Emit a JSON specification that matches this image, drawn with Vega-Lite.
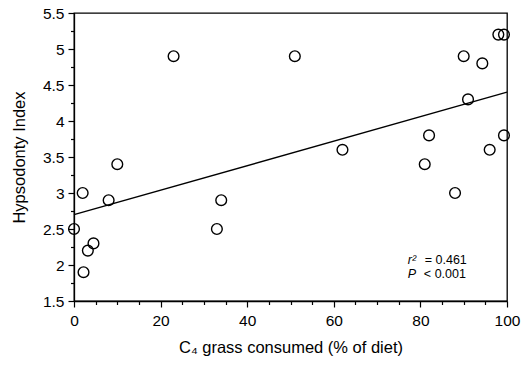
{
  "$schema": "https://vega.github.io/schema/vega-lite/v6.json",
  "width": 433,
  "height": 288,
  "autosize": {"type": "none"},
  "padding": {"left": 74, "top": 13, "right": 14, "bottom": 65},
  "background": "white",
  "config": {
    "font": "Liberation Sans",
    "view": {"stroke": "black", "strokeWidth": 1.3},
    "axis": {
      "grid": false,
      "domainColor": "black",
      "domainWidth": 1.3,
      "tickColor": "black",
      "tickWidth": 1.2,
      "labelColor": "black",
      "labelFont": "Liberation Sans",
      "labelFontSize": 15.5,
      "titleFont": "Liberation Sans",
      "titleFontSize": 16.5,
      "titleFontWeight": "normal",
      "titleColor": "black",
      "labelOverlap": false,
      "labelFlush": false
    }
  },
  "datasets": {
    "pts": [
      {"c4": 0, "hi": 2.5},
      {"c4": 2, "hi": 3.0},
      {"c4": 8, "hi": 2.9},
      {"c4": 4.5, "hi": 2.3},
      {"c4": 3.2, "hi": 2.2},
      {"c4": 2.2, "hi": 1.9},
      {"c4": 33, "hi": 2.5},
      {"c4": 34, "hi": 2.9},
      {"c4": 10, "hi": 3.4},
      {"c4": 23, "hi": 4.9},
      {"c4": 51, "hi": 4.9},
      {"c4": 62, "hi": 3.6},
      {"c4": 82, "hi": 3.8},
      {"c4": 81, "hi": 3.4},
      {"c4": 88, "hi": 3.0},
      {"c4": 90, "hi": 4.9},
      {"c4": 91, "hi": 4.3},
      {"c4": 94.3, "hi": 4.8},
      {"c4": 96, "hi": 3.6},
      {"c4": 98, "hi": 5.2},
      {"c4": 99.3, "hi": 5.2},
      {"c4": 99.3, "hi": 3.8}
    ],
    "fit": [
      {"c4": 0, "hi": 2.7},
      {"c4": 100, "hi": 4.4}
    ],
    "italic": [
      {"c4": 77.1, "hi": 2.07, "t": "r²"},
      {"c4": 77.1, "hi": 1.88, "t": "P"}
    ],
    "plain": [
      {"c4": 81.0, "hi": 2.07, "t": "= 0.461"},
      {"c4": 80.8, "hi": 1.88, "t": "< 0.001"}
    ]
  },
  "resolve": {"axis": {"x": "independent", "y": "independent"}},
  "layer": [
    {
      "data": {"name": "fit"},
      "mark": {"type": "line", "color": "black", "strokeWidth": 1.4},
      "encoding": {
        "x": {
          "field": "c4", "type": "quantitative",
          "scale": {"domain": [0, 100], "nice": false, "zero": false},
          "title": "C₄ grass consumed (% of diet)",
          "axis": {
            "orient": "bottom",
            "values": [0, 20, 40, 60, 80, 100],
            "tickSize": 6,
            "labelExpr": "'' + datum.value",
            "labelPadding": 6,
            "titlePadding": 11
          }
        },
        "y": {
          "field": "hi", "type": "quantitative",
          "scale": {"domain": [1.5, 5.5], "nice": false, "zero": false},
          "title": "Hypsodonty Index",
          "axis": {
            "orient": "left",
            "values": [1.5, 2, 2.5, 3, 3.5, 4, 4.5, 5, 5.5],
            "tickSize": 6,
            "labelExpr": "'' + datum.value",
            "labelPadding": 4,
            "titlePadding": 15
          }
        }
      }
    },
    {
      "data": {"name": "pts"},
      "mark": {"type": "point", "shape": "circle", "filled": false, "color": "black", "strokeWidth": 1.4, "size": 115, "opacity": 1},
      "encoding": {
        "x": {
          "field": "c4", "type": "quantitative",
          "axis": {
            "orient": "bottom",
            "values": [5,10,15,25,30,35,45,50,55,65,70,75,85,90,95],
            "tickSize": 3.5,
            "labels": false,
            "domain": false,
            "title": null
          }
        },
        "y": {
          "field": "hi", "type": "quantitative",
          "axis": {
            "orient": "left",
            "values": [1.75, 2.25, 2.75, 3.25, 3.75, 4.25, 4.75, 5.25],
            "tickSize": 3.5,
            "labels": false,
            "domain": false,
            "title": null
          }
        }
      }
    },
    {
      "data": {"name": "italic"},
      "mark": {"type": "text", "align": "left", "baseline": "middle", "fontSize": 12.5, "fontStyle": "italic", "color": "black"},
      "encoding": {"x": {"field": "c4", "type": "quantitative", "axis": null}, "y": {"field": "hi", "type": "quantitative", "axis": null}, "text": {"field": "t"}}
    },
    {
      "data": {"name": "plain"},
      "mark": {"type": "text", "align": "left", "baseline": "middle", "fontSize": 12.5, "color": "black"},
      "encoding": {"x": {"field": "c4", "type": "quantitative", "axis": null}, "y": {"field": "hi", "type": "quantitative", "axis": null}, "text": {"field": "t"}}
    }
  ]
}
